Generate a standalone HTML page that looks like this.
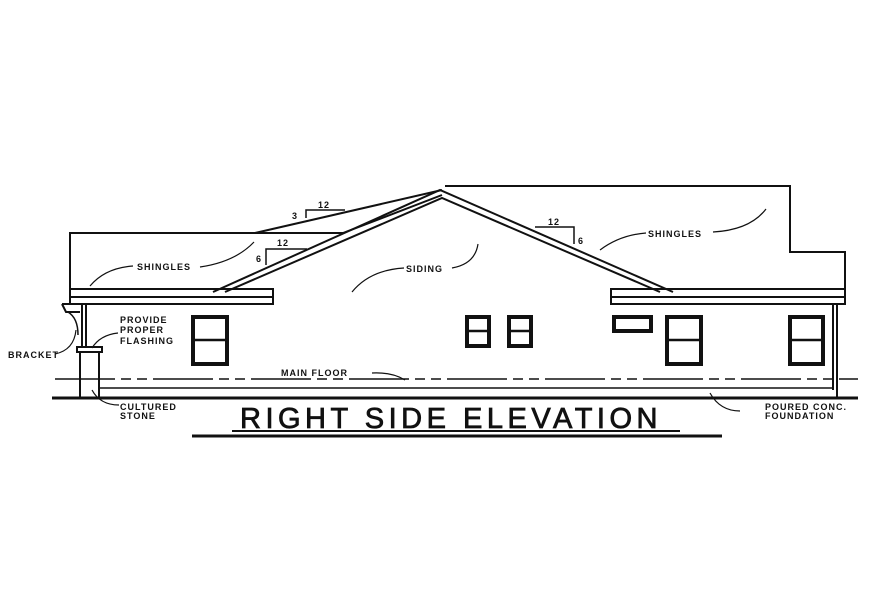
<!DOCTYPE html>
<html><head><style>body{margin:0;background:#fff}svg{display:block}</style></head><body>
<svg width="891" height="593" viewBox="0 0 891 593" xmlns="http://www.w3.org/2000/svg" font-family="Liberation Sans, sans-serif">
<g fill="none" stroke="#111" stroke-width="2">
<!-- left roof -->
<path d="M70 289 V233 H343"/>
<path d="M255 233 L442 190"/>
<path d="M343 233 L442 195"/>
<path d="M70 289 H273 V304 H70 Z"/>
<line x1="70" y1="297" x2="273" y2="297"/>
<path d="M62 304 H82 M62 304 L66 312 H80"/>
<path d="M68 312 Q78 318 78 335" stroke-width="1.5"/>
<!-- main gable -->
<path d="M213 292 L440 190 L673 292"/>
<path d="M225 292 L442 198 L660 292"/>
<!-- right roof -->
<path d="M445 186 H790 V252 H845 V289"/>
<path d="M611 289 H845 V304 H611 Z"/>
<line x1="611" y1="297" x2="845" y2="297"/>
<!-- walls -->
<line x1="833" y1="304" x2="833" y2="390"/>
<line x1="837" y1="304" x2="837" y2="398"/>
<line x1="82" y1="304" x2="82" y2="348"/>
<line x1="86" y1="304" x2="86" y2="348"/>
<!-- column -->
<rect x="77" y="347" width="25" height="5"/>
<path d="M80 352 V398 M99 352 V398"/>
<!-- floor / foundation -->
<line x1="100" y1="388" x2="833" y2="388" stroke-width="1.5"/>
<line x1="55" y1="379" x2="858" y2="379" stroke-width="1.5" stroke-dasharray="60 6 10 6 10 6"/>
<line x1="52" y1="398" x2="858" y2="398" stroke-width="3"/>
<!-- pitch triangles -->
<path d="M306 218 V210 H345" stroke-width="1.5"/>
<path d="M266 265 V249 H307" stroke-width="1.5"/>
<path d="M535 227 H574 V244" stroke-width="1.5"/>
<!-- title underlines -->
<line x1="232" y1="431" x2="680" y2="431" stroke-width="2"/>
<line x1="192" y1="436" x2="722" y2="436" stroke-width="3"/>
<!-- leaders -->
<g stroke-width="1.2">
<path d="M133 266 Q105 268 90 286"/>
<path d="M200 267 Q235 262 254 242"/>
<path d="M404 268 Q370 270 352 292"/>
<path d="M452 268 Q475 264 478 244"/>
<path d="M646 233 Q620 235 600 250"/>
<path d="M713 232 Q750 230 766 209"/>
<path d="M118 333 Q100 335 92 348"/>
<path d="M55 354 Q74 350 76 330"/>
<path d="M119 405 Q100 405 92 390"/>
<path d="M740 411 Q720 411 710 393"/>
<path d="M372 373 Q392 372 405 380"/>
</g>
</g>
<g fill="none" stroke="#111" stroke-width="4">
<rect x="193" y="317" width="34" height="47"/><line x1="193" y1="340" x2="227" y2="340" stroke-width="2.5"/>
<rect x="467" y="317" width="22" height="29"/><line x1="467" y1="331" x2="489" y2="331" stroke-width="2.5"/>
<rect x="509" y="317" width="22" height="29"/><line x1="509" y1="331" x2="531" y2="331" stroke-width="2.5"/>
<rect x="614" y="317" width="37" height="14"/>
<rect x="667" y="317" width="34" height="47"/><line x1="667" y1="340" x2="701" y2="340" stroke-width="2.5"/>
<rect x="790" y="317" width="33" height="47"/><line x1="790" y1="340" x2="823" y2="340" stroke-width="2.5"/>
</g>
<g font-size="9" font-weight="bold" fill="#111" letter-spacing="1">
<text x="318" y="208">12</text><text x="292" y="219">3</text>
<text x="277" y="246">12</text><text x="256" y="262">6</text>
<text x="548" y="225">12</text><text x="578" y="244">6</text>
<text x="137" y="270">SHINGLES</text>
<text x="406" y="272">SIDING</text>
<text x="648" y="237">SHINGLES</text>
<text x="120" y="323">PROVIDE</text>
<text x="120" y="333">PROPER</text>
<text x="120" y="344">FLASHING</text>
<text x="8" y="358">BRACKET</text>
<text x="281" y="376">MAIN FLOOR</text>
<text x="120" y="410">CULTURED</text>
<text x="120" y="419">STONE</text>
<text x="765" y="410">POURED CONC.</text>
<text x="765" y="419">FOUNDATION</text>
</g>
<text x="451" y="428" text-anchor="middle" font-size="29" fill="#111" stroke="#111" stroke-width="0.8" letter-spacing="4.5" textLength="422" lengthAdjust="spacingAndGlyphs">RIGHT SIDE ELEVATION</text>
</svg>
</body></html>
